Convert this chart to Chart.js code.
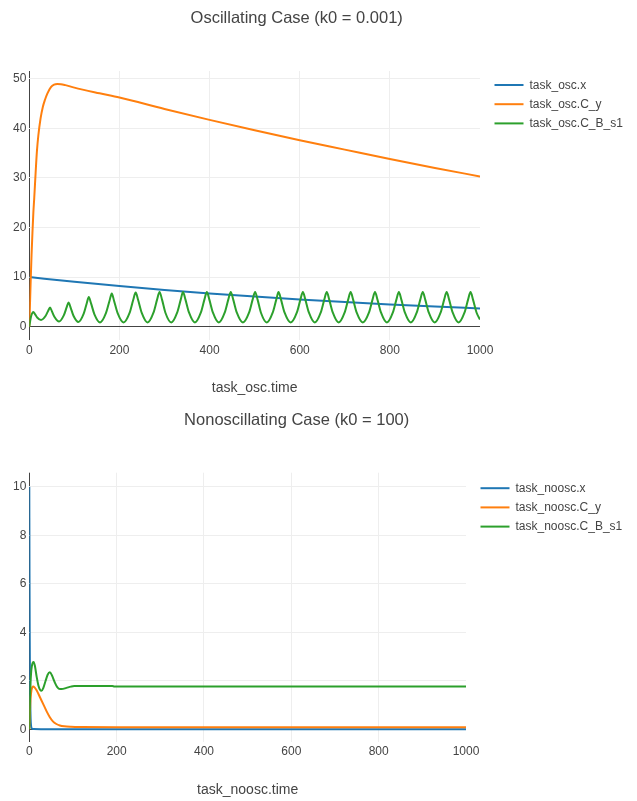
<!DOCTYPE html>
<html>
<head>
<meta charset="utf-8">
<script src="https://cdn.jsdelivr.net/npm/chart.js@4.4.1/dist/chart.umd.min.js"></script>
<style>
  body { margin: 0; background: #fff; }
  .box { position: absolute; left: 0; width: 637px; }
  #box1 { top: 0; height: 402px; }
  #box2 { top: 402px; height: 399px; }
</style>
</head>
<body>
<div class="box" id="box1"><canvas id="osc"></canvas></div>
<div class="box" id="box2"><canvas id="noosc"></canvas></div>
<script>
// ---- oscillating case (k0 = 0.001) ----
const oscXTime = [0, 100, 200, 300, 400, 500, 600, 700, 800, 900, 1000];
const oscX = [10, 9.05, 8.19, 7.41, 6.70, 6.07, 5.49, 4.97, 4.49, 4.07, 3.68];

const oscCyTime = [0, 1.5, 3, 5, 7, 9, 11, 14, 17, 20, 25, 30, 35, 40, 48, 55, 62, 70, 80, 100,
  156, 200, 300, 400, 500, 600, 700, 800, 900, 1000];
const oscCy = [0, 4.5, 9, 14.5, 19, 23, 26, 31, 35.5, 38.5, 42, 44.3, 45.8, 47, 48.3, 48.8, 48.95, 48.9, 48.7, 48.2,
  47.05, 46.2, 43.9, 41.7, 39.6, 37.6, 35.7, 33.8, 32.0, 30.3];

const oscCbTime = [0, 2, 4, 6, 9, 12.5, 17.5, 26, 36, 42, 46, 50, 56, 66, 76.5, 83, 87, 91.5, 98, 109,
  120.5, 127.5, 132, 137, 144.5, 157, 170, 178, 183, 188, 196, 209, 222.5, 230.5, 236, 241.5, 249.5, 262.5,
  275.5, 283.5, 289, 294.5, 302, 315, 328, 336, 341, 346.5, 354.5, 367.5, 380.5, 388.5, 394, 399.5, 407.5, 420.5,
  433.5, 441.5, 447, 452.5, 460.5, 474, 487.5, 495.5, 501, 506.5, 514, 527, 540, 548, 553, 558.5, 566.5, 580,
  593.5, 601.5, 607, 612.5, 620.5, 633.5, 646.5, 654.5, 660, 665.5, 673.5, 686.5, 699.5, 707.5, 713, 718.5, 726.5, 740,
  753.5, 761.5, 767, 772.5, 780.5, 793.5, 806.5, 814.5, 820, 825.5, 833.5, 846.5, 859.5, 867.5, 873, 878.5, 886.5, 899.5,
  912.5, 920.5, 926, 931.5, 939.5, 952.5, 965.5, 973.5, 979, 984.5, 992.5, 1000];
const oscCb = [0, 1.2, 2.1, 2.65, 2.95, 2.55, 1.86, 1.35, 2.15, 3.23, 3.85, 3.15, 1.95, 1.05, 2.28, 3.94, 4.9, 3.91, 2.21, 0.95,
  2.57, 4.74, 6.0, 4.71, 2.5, 0.85, 2.72, 5.24, 6.7, 5.24, 2.72, 0.85, 2.79, 5.39, 6.9, 5.39, 2.79, 0.85,
  2.82, 5.46, 7.0, 5.46, 2.82, 0.85, 2.82, 5.46, 7.0, 5.46, 2.82, 0.85, 2.82, 5.46, 7.0, 5.46, 2.82, 0.85,
  2.82, 5.46, 7.0, 5.46, 2.82, 0.85, 2.82, 5.46, 7.0, 5.46, 2.82, 0.85, 2.82, 5.46, 7.0, 5.46, 2.82, 0.85,
  2.82, 5.46, 7.0, 5.46, 2.82, 0.85, 2.82, 5.46, 7.0, 5.46, 2.82, 0.85, 2.82, 5.46, 7.0, 5.46, 2.82, 0.85,
  2.82, 5.46, 7.0, 5.46, 2.82, 0.85, 2.82, 5.46, 7.0, 5.46, 2.82, 0.85, 2.82, 5.46, 7.0, 5.46, 2.82, 0.85,
  2.82, 5.46, 7.0, 5.46, 2.82, 0.85, 2.82, 5.46, 7.0, 5.46, 2.82, 1.45];

const oscXTicks = [0, 200, 400, 600, 800, 1000];
const oscYTicks = [0, 10, 20, 30, 40, 50];

// ---- nonoscillating case (k0 = 100) ----
const nooscXTime = [0, 0.5, 1, 1.5, 2, 3, 4, 6, 10, 50, 1000];
const nooscX = [10, 6.3, 3.8, 2.2, 1.3, 0.45, 0.15, 0.03, 0.01, 0, 0];

const nooscCyTime = [0, 1, 2, 3, 5, 7, 9, 12, 17, 25, 33, 40, 47, 54, 62, 70, 80, 95, 120, 200, 1000];
const nooscCy = [0, 0.5, 0.95, 1.3, 1.62, 1.74, 1.77, 1.73, 1.6, 1.3, 1.0, 0.73, 0.5, 0.33, 0.22, 0.16, 0.125, 0.105, 0.095, 0.09, 0.09];

const nooscCbTime = [0, 1, 2, 4, 6, 8, 10, 13, 17, 21, 25, 28, 32, 37, 42, 47, 52, 58, 64, 70, 74, 85, 95, 103, 190, 195, 1000];
const nooscCb = [0, 0.8, 1.5, 2.3, 2.62, 2.75, 2.78, 2.6, 2.15, 1.8, 1.62, 1.59, 1.7, 1.98, 2.25, 2.35, 2.22, 1.95, 1.74, 1.66, 1.66, 1.71, 1.76, 1.785, 1.785, 1.765, 1.765];

const nooscXTicks = [0, 200, 400, 600, 800, 1000];
const nooscYTicks = [0, 2, 4, 6, 8, 10];

const colors = ['#1f77b4', '#ff7f0e', '#2ca02c'];

Chart.defaults.font.family = '"Liberation Sans", Arial, sans-serif';
Chart.defaults.color = '#444';

function pts(ts, vs) {
  return ts.map((t, i) => ({ x: t, y: vs[i] }));
}

// plotly-like title + legend drawn beside the plot area
const plotlyFrame = {
  id: 'plotlyFrame',
  afterDraw(chart, args, opts) {
    const { ctx, chartArea } = chart;
    ctx.save();
    ctx.fillStyle = '#444';
    ctx.font = '16.5px "Liberation Sans", Arial, sans-serif';
    ctx.textAlign = 'center';
    ctx.textBaseline = 'alphabetic';
    ctx.fillText(opts.title, opts.titleX, opts.titleY);

    ctx.font = '12px "Liberation Sans", Arial, sans-serif';
    ctx.textAlign = 'left';
    ctx.textBaseline = 'middle';
    chart.data.datasets.forEach((ds, i) => {
      const x = chartArea.right + 14.5;
      const y = chartArea.top + opts.legendTop + i * 19.2;
      ctx.strokeStyle = ds.borderColor;
      ctx.lineWidth = 2;
      ctx.beginPath();
      ctx.moveTo(x, y);
      ctx.lineTo(x + 29, y);
      ctx.stroke();
      ctx.fillText(ds.label, x + 35, y + 0.5);
    });
    ctx.restore();
  }
};

function makeChart(id, cfg) {
  const series = cfg.series.map((s, i) => ({
    label: s.label,
    data: pts(s.t, s.v),
    borderColor: colors[i],
    backgroundColor: colors[i],
    borderWidth: 2,
    pointRadius: 0,
    cubicInterpolationMode: 'monotone',
    order: 3 - i
  }));
  const gridColor = c => {
    if (!c.tick) return '#eee';
    if (c.tick.value === 0) return '#444';
    if (c.tick.value === cfg.xMax && c.scale.axis === 'x') return 'rgba(0,0,0,0)';
    return '#eee';
  };
  return new Chart(document.getElementById(id), {
    type: 'line',
    data: { datasets: series },
    options: {
      responsive: true,
      maintainAspectRatio: false,
      animation: false,
      events: [],
      layout: { padding: { top: cfg.top, right: cfg.right, left: 0, bottom: 0 } },
      plugins: {
        legend: { display: false },
        tooltip: { enabled: false },
        title: { display: false },
        plotlyFrame: { title: cfg.title, titleX: 296.7, titleY: cfg.titleY, legendTop: cfg.legendTop }
      },
      scales: {
        x: {
          type: 'linear',
          min: 0,
          max: cfg.xMax,
          afterBuildTicks: s => { s.ticks = cfg.xTicks.map(v => ({ value: v })); },
          afterFit: s => { s.height = cfg.xHeight; },
          border: { display: false },
          grid: { color: gridColor, drawTicks: false, lineWidth: 1 },
          ticks: { padding: 3, maxRotation: 0, font: { size: 12 }, color: '#444', callback: v => String(v) },
          title: {
            display: true,
            text: cfg.xTitle,
            color: '#444',
            font: { size: 14 },
            padding: { top: 0, bottom: cfg.xTitlePad }
          }
        },
        y: {
          type: 'linear',
          min: cfg.yMin,
          max: cfg.yMax,
          afterBuildTicks: s => { s.ticks = cfg.yTicks.map(v => ({ value: v })); },
          afterFit: s => { s.width = 29.3; },
          border: { display: false },
          grid: { color: gridColor, drawTicks: false, lineWidth: 1 },
          ticks: { padding: 3, font: { size: 12 }, color: '#444', callback: v => String(v) }
        }
      }
    },
    plugins: [plotlyFrame]
  });
}

makeChart('osc', {
  title: 'Oscillating Case (k0 = 0.001)',
  titleY: 22.7,
  top: 71,
  right: 157,
  legendTop: 14,
  xMax: 1000,
  xHeight: 62,
  xTitle: 'task_osc.time',
  xTitlePad: 5.6,
  xTicks: oscXTicks,
  yTicks: oscYTicks,
  yMin: -2.68,
  yMax: 51.55,
  series: [
    { label: 'task_osc.x', t: oscXTime, v: oscX },
    { label: 'task_osc.C_y', t: oscCyTime, v: oscCy },
    { label: 'task_osc.C_B_s1', t: oscCbTime, v: oscCb }
  ]
});

makeChart('noosc', {
  title: 'Nonoscillating Case (k0 = 100)',
  titleY: 23.3,
  top: 70.7,
  right: 171,
  legendTop: 15.5,
  xMax: 1000,
  xHeight: 59.3,
  xTitle: 'task_noosc.time',
  xTitlePad: 2.6,
  xTicks: nooscXTicks,
  yTicks: nooscYTicks,
  yMin: -0.51,
  yMax: 10.58,
  series: [
    { label: 'task_noosc.x', t: nooscXTime, v: nooscX },
    { label: 'task_noosc.C_y', t: nooscCyTime, v: nooscCy },
    { label: 'task_noosc.C_B_s1', t: nooscCbTime, v: nooscCb }
  ]
});
</script>
</body>
</html>
